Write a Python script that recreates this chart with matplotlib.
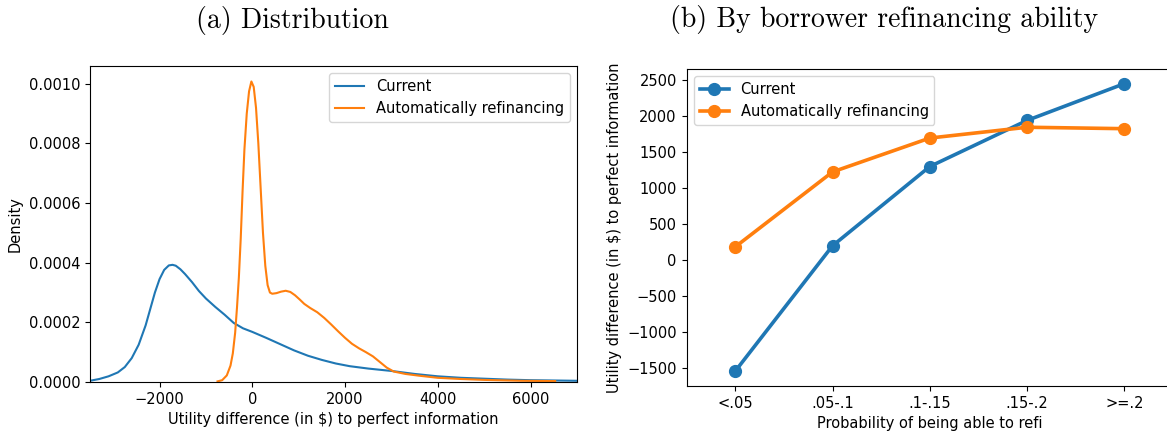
import matplotlib.pyplot as plt

# density of the utility gap, read on a grid of dollar values
current_x = [-3500, -3300, -3100, -2900, -2750, -2600, -2450, -2300, -2200,
             -2100, -2000, -1900, -1800, -1720, -1650, -1550, -1450, -1300,
             -1150, -1000, -800, -600, -400, -200, 0, 300, 600, 900, 1200,
             1500, 1800, 2100, 2500, 3000, 3500, 4000, 4500, 5000, 5500,
             6000, 7000]
current_density = [0.000004, 0.000010, 0.000019, 0.000032, 0.000050,
                   0.000080, 0.000125, 0.000190, 0.000245, 0.000300,
                   0.000345, 0.000376, 0.000391, 0.000393, 0.000390,
                   0.000378, 0.000362, 0.000335, 0.000305, 0.000280,
                   0.000252, 0.000226, 0.000198, 0.000180, 0.000168,
                   0.000148, 0.000127, 0.000106, 0.000088, 0.000074,
                   0.000062, 0.000053, 0.000045, 0.000037, 0.000027,
                   0.000019, 0.000014, 0.000011, 0.000008, 0.000006,
                   0.000004]

auto_x = [-750, -650, -550, -470, -420, -370, -330, -290, -250, -210, -170,
          -120, -70, -20, 30, 80, 130, 180, 230, 280, 330, 380, 430, 520,
          620, 720, 820, 920, 1020, 1120, 1250, 1400, 1550, 1700, 1850,
          2000, 2150, 2300, 2450, 2600, 2750, 2900, 3050, 3300, 3600, 4000,
          4500, 5000, 5800, 6530]
auto_density = [0.000002, 0.000006, 0.000022, 0.000055, 0.000096, 0.000165,
                0.000250, 0.000350, 0.000480, 0.000640, 0.000780, 0.000900,
                0.000975, 0.001008, 0.000990, 0.000920, 0.000800, 0.000650,
                0.000500, 0.000390, 0.000325, 0.000300, 0.000296, 0.000298,
                0.000303, 0.000306, 0.000302, 0.000291, 0.000277, 0.000262,
                0.000248, 0.000234, 0.000215, 0.000193, 0.000170, 0.000148,
                0.000128, 0.000113, 0.000100, 0.000086, 0.000067, 0.000048,
                0.000035, 0.000027, 0.000021, 0.000014, 0.000010, 0.000007,
                0.000004, 0.000003]

# mean utility gap by refinancing probability bucket
refi_buckets = ["<.05", ".05-.1", ".1-.15", ".15-.2", ">=.2"]
current_by_bucket = [-1540, 200, 1300, 1940, 2450]
auto_by_bucket = [185, 1225, 1695, 1845, 1825]

blue = "#1f77b4"
orange = "#ff7f0e"

plt.rcParams["font.size"] = 10.5
fig = plt.figure(figsize=(11.67, 4.37), dpi=100)

# (a) kernel densities
ax1 = fig.add_axes([0.0771, 0.1259, 0.4173, 0.7231])
ax1.plot(current_x, current_density, color=blue, lw=1.5, label="Current")
ax1.plot(auto_x, auto_density, color=orange, lw=1.5,
         label="Automatically refinancing")
ax1.set_xlim(-3500, 7000)
ax1.set_ylim(0, 0.00106)
ax1.set_xticks([-2000, 0, 2000, 4000, 6000])
ax1.set_yticks([0, 0.0002, 0.0004, 0.0006, 0.0008, 0.0010])
ax1.set_yticklabels(["0.0000", "0.0002", "0.0004", "0.0006", "0.0008", "0.0010"])
ax1.set_xlabel("Utility difference (in $) to perfect information")
ax1.set_ylabel("Density")
ax1.legend(loc="upper right")

# (b) point estimates by bucket
ax2 = fig.add_axes([0.5883, 0.1167, 0.4169, 0.7254])
pos = range(len(refi_buckets))
ax2.plot(pos, current_by_bucket, color=blue, lw=2.6, marker="o",
         markersize=8.5, label="Current")
ax2.plot(pos, auto_by_bucket, color=orange, lw=2.6, marker="o",
         markersize=8.5, label="Automatically refinancing")
ax2.set_xlim(-0.5, 4.5)
ax2.set_ylim(-1745, 2653)
ax2.set_xticks(list(pos))
ax2.set_xticklabels(refi_buckets)
ax2.set_yticks(range(-1500, 2501, 500))
ax2.set_xlabel("Probability of being able to refi")
ax2.set_ylabel("Utility difference (in $) to perfect information")
ax2.legend(loc="upper left")

fig.text(292 / 1167, 0.952, "(a) Distribution", family="cmr10",
         fontsize=20, ha="center", va="center")
fig.text(884 / 1167, 0.955, "(b) By borrower refinancing ability",
         family="cmr10", fontsize=20, ha="center", va="center")

fig.savefig("out.png", dpi=100)
